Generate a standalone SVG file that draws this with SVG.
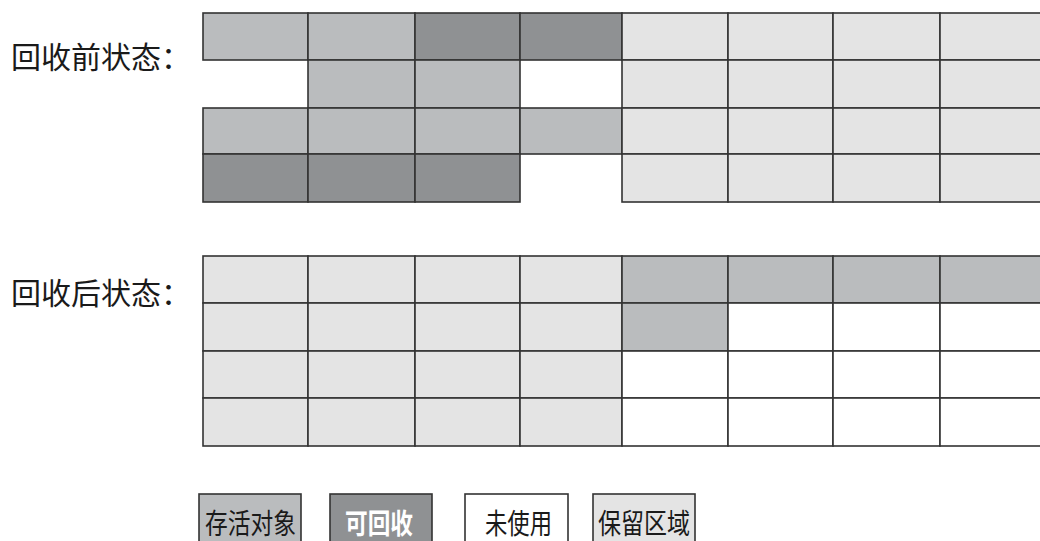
<svg xmlns="http://www.w3.org/2000/svg" width="1040" height="541" viewBox="0 0 1040 541">
<style>
.c{stroke:#333;stroke-width:1.6}
.live{fill:#BABCBE}
.dead{fill:#8F9193}
.res{fill:#E4E4E4}
.free{fill:#FFFFFF}
.lbl{font-family:"Noto Sans CJK SC","Noto Sans CJK JP",sans-serif;font-size:30px;fill:#1a1a1a}
.lg{font-family:"Noto Sans CJK SC","Noto Sans CJK JP",sans-serif;font-size:28px;fill:#1a1a1a}
</style>
<rect width="1040" height="541" fill="#fff"/>
<g id="label-before"><text class="lbl" x="11" y="68">回收前状态：</text></g>
<g id="label-after"><text class="lbl" x="11" y="304">回收后状态：</text></g>
<g id="grid-before">
<rect class="c live" x="203" y="13" width="105" height="47"/>
<rect class="c live" x="308" y="13" width="107" height="47"/>
<rect class="c dead" x="415" y="13" width="105" height="47"/>
<rect class="c dead" x="520" y="13" width="102" height="47"/>
<rect class="c res" x="622" y="13" width="106" height="47"/>
<rect class="c res" x="728" y="13" width="105" height="47"/>
<rect class="c res" x="833" y="13" width="107" height="47"/>
<rect class="c res" x="940" y="13" width="106" height="47"/>
<rect class="c live" x="308" y="60" width="107" height="48"/>
<rect class="c live" x="415" y="60" width="105" height="48"/>
<rect class="c res" x="622" y="60" width="106" height="48"/>
<rect class="c res" x="728" y="60" width="105" height="48"/>
<rect class="c res" x="833" y="60" width="107" height="48"/>
<rect class="c res" x="940" y="60" width="106" height="48"/>
<rect class="c live" x="203" y="108" width="105" height="46"/>
<rect class="c live" x="308" y="108" width="107" height="46"/>
<rect class="c live" x="415" y="108" width="105" height="46"/>
<rect class="c live" x="520" y="108" width="102" height="46"/>
<rect class="c res" x="622" y="108" width="106" height="46"/>
<rect class="c res" x="728" y="108" width="105" height="46"/>
<rect class="c res" x="833" y="108" width="107" height="46"/>
<rect class="c res" x="940" y="108" width="106" height="46"/>
<rect class="c dead" x="203" y="154" width="105" height="48"/>
<rect class="c dead" x="308" y="154" width="107" height="48"/>
<rect class="c dead" x="415" y="154" width="105" height="48"/>
<rect class="c res" x="622" y="154" width="106" height="48"/>
<rect class="c res" x="728" y="154" width="105" height="48"/>
<rect class="c res" x="833" y="154" width="107" height="48"/>
<rect class="c res" x="940" y="154" width="106" height="48"/>
</g>
<g id="grid-after">
<rect class="c res" x="203" y="256" width="105" height="47"/>
<rect class="c res" x="308" y="256" width="107" height="47"/>
<rect class="c res" x="415" y="256" width="105" height="47"/>
<rect class="c res" x="520" y="256" width="102" height="47"/>
<rect class="c live" x="622" y="256" width="106" height="47"/>
<rect class="c live" x="728" y="256" width="105" height="47"/>
<rect class="c live" x="833" y="256" width="107" height="47"/>
<rect class="c live" x="940" y="256" width="106" height="47"/>
<rect class="c res" x="203" y="303" width="105" height="48"/>
<rect class="c res" x="308" y="303" width="107" height="48"/>
<rect class="c res" x="415" y="303" width="105" height="48"/>
<rect class="c res" x="520" y="303" width="102" height="48"/>
<rect class="c live" x="622" y="303" width="106" height="48"/>
<rect class="c free" x="728" y="303" width="105" height="48"/>
<rect class="c free" x="833" y="303" width="107" height="48"/>
<rect class="c free" x="940" y="303" width="106" height="48"/>
<rect class="c res" x="203" y="351" width="105" height="47"/>
<rect class="c res" x="308" y="351" width="107" height="47"/>
<rect class="c res" x="415" y="351" width="105" height="47"/>
<rect class="c res" x="520" y="351" width="102" height="47"/>
<rect class="c free" x="622" y="351" width="106" height="47"/>
<rect class="c free" x="728" y="351" width="105" height="47"/>
<rect class="c free" x="833" y="351" width="107" height="47"/>
<rect class="c free" x="940" y="351" width="106" height="47"/>
<rect class="c res" x="203" y="398" width="105" height="48"/>
<rect class="c res" x="308" y="398" width="107" height="48"/>
<rect class="c res" x="415" y="398" width="105" height="48"/>
<rect class="c res" x="520" y="398" width="102" height="48"/>
<rect class="c free" x="622" y="398" width="106" height="48"/>
<rect class="c free" x="728" y="398" width="105" height="48"/>
<rect class="c free" x="833" y="398" width="107" height="48"/>
<rect class="c free" x="940" y="398" width="106" height="48"/>
</g>
<g id="legend-live">
<rect class="c live" x="199" y="494" width="102" height="50"/>
<text class="lg" x="205" y="534" textLength="91" lengthAdjust="spacingAndGlyphs">存活对象</text>
</g>
<g id="legend-dead">
<rect class="c dead" x="330" y="494" width="102" height="50"/>
<text class="lg" x="345" y="534" textLength="68" lengthAdjust="spacingAndGlyphs" style="fill:#fff;font-weight:bold">可回收</text>
</g>
<g id="legend-free">
<rect class="c free" x="465" y="494" width="103" height="50"/>
<text class="lg" x="485" y="534" textLength="67" lengthAdjust="spacingAndGlyphs">未使用</text>
</g>
<g id="legend-res">
<rect class="c res" x="593" y="494" width="102" height="50"/>
<text class="lg" x="598" y="534" textLength="92" lengthAdjust="spacingAndGlyphs">保留区域</text>
</g>
</svg>
